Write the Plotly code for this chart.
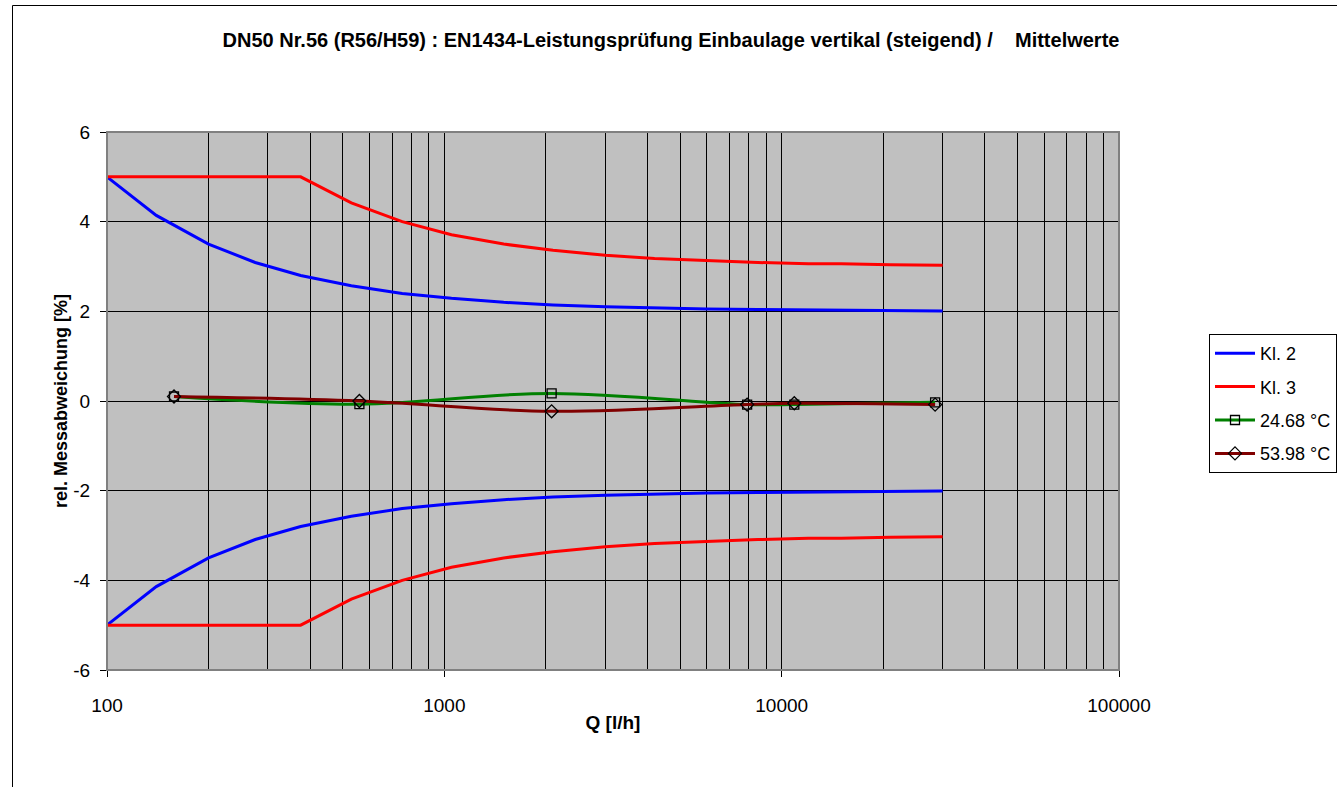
import plotly.graph_objects as go

# ---------------- data ----------------
q_class = [100, 140, 200, 275, 375, 530, 750, 1050, 1500, 2100, 3000, 4200,
           6000, 8500, 12000, 15000, 21000, 30000]
kl2_upper = [5.0, 4.14, 3.5, 3.09, 2.8, 2.57, 2.4, 2.29, 2.2, 2.14, 2.1, 2.07,
             2.05, 2.04, 2.03, 2.03, 2.01, 2.01]
kl2_lower = [-5.0, -4.14, -3.5, -3.09, -2.8, -2.57, -2.4, -2.29, -2.2, -2.14, -2.1, -2.07,
             -2.05, -2.04, -2.03, -2.03, -2.01, -2.01]
kl3_upper = [5.0, 5.0, 5.0, 5.0, 5.0, 4.42, 4.0, 3.71, 3.5, 3.36, 3.25, 3.18,
             3.13, 3.09, 3.06, 3.06, 3.04, 3.03]
kl3_lower = [-5.0, -5.0, -5.0, -5.0, -5.0, -4.42, -4.0, -3.71, -3.5, -3.36, -3.25, -3.18,
             -3.13, -3.09, -3.06, -3.06, -3.04, -3.03]

q_meas = [158, 560, 2080, 7900, 10900, 28500]
t24_68 = [0.10, -0.07, 0.17, -0.08, -0.08, -0.03]
t53_98 = [0.10, 0.00, -0.23, -0.08, -0.05, -0.08]

x_tickvals = [100, 1000, 10000, 100000]
x_ticktext = ["100", "1000", "10000", "100000"]
x_minorvals = [200, 300, 400, 500, 600, 700, 800, 900,
               2000, 3000, 4000, 5000, 6000, 7000, 8000, 9000,
               20000, 30000, 40000, 50000, 60000, 70000, 80000, 90000]
y_tickvals = [-6, -4, -2, 0, 2, 4, 6]
y_ticktext = ["-6", "-4", "-2", "0", "2", "4", "6"]

title_text = ("DN50 Nr.56 (R56/H59) : EN1434-Leistungsprüfung Einbaulage vertikal "
              "(steigend) /\u00a0\u00a0\u00a0 Mittelwerte")

# ---------------- figure ----------------
FONT = "Liberation Sans, Arial, sans-serif"
W, H = 1337, 787
L, R, T, B = 107, 1337 - 1119, 132, 787 - 670
PW, PH = W - L - R, H - T - B

fig = go.Figure()

fig.add_trace(go.Scatter(x=q_class, y=kl2_upper, mode="lines", name="Kl. 2",
                         legendgroup="kl2", line=dict(color="#0000FF", width=3)))
fig.add_trace(go.Scatter(x=q_class, y=kl2_lower, mode="lines", name="Kl. 2",
                         legendgroup="kl2", showlegend=False,
                         line=dict(color="#0000FF", width=3)))
fig.add_trace(go.Scatter(x=q_class, y=kl3_upper, mode="lines", name="Kl. 3",
                         legendgroup="kl3", line=dict(color="#FF0000", width=3)))
fig.add_trace(go.Scatter(x=q_class, y=kl3_lower, mode="lines", name="Kl. 3",
                         legendgroup="kl3", showlegend=False,
                         line=dict(color="#FF0000", width=3)))
fig.add_trace(go.Scatter(x=q_meas, y=t24_68, mode="lines+markers", name="24.68 °C",
                         legendgroup="t1",
                         line=dict(color="#008000", width=3, shape="spline", smoothing=1),
                         marker=dict(symbol="square-open", size=9, color="#000000",
                                     line=dict(width=1.3, color="#000000"))))
fig.add_trace(go.Scatter(x=q_meas, y=t53_98, mode="lines+markers", name="53.98 °C",
                         legendgroup="t2",
                         line=dict(color="#800000", width=3, shape="spline", smoothing=1),
                         marker=dict(symbol="diamond-open", size=10, color="#000000",
                                     line=dict(width=1.3, color="#000000"))))

# plot border (gray) and outer chart border
fig.add_shape(type="rect", xref="paper", yref="paper", x0=0, x1=1, y0=0, y1=1,
              line=dict(color="#808080", width=2), layer="above")
fig.add_shape(type="rect", xref="paper", yref="paper",
              x0=(12.5 - L) / PW, x1=1.5, y0=-0.5, y1=1 + (T - 5.5) / PH,
              line=dict(color="#000000", width=1))

fig.update_layout(
    width=W, height=H,
    margin=dict(l=L, r=R, t=T, b=B, autoexpand=False),
    paper_bgcolor="#FFFFFF",
    plot_bgcolor="#C0C0C0",
    font=dict(family=FONT, size=18, color="#000000"),
    title=dict(text="<b>" + title_text + "</b>", x=671 / W, xanchor="center",
               y=1 - 40 / H, yanchor="middle", font=dict(size=20)),
    legend=dict(x=(1209 - L) / PW, y=1 - (334 - T) / PH, xanchor="left", yanchor="top",
                bordercolor="#000000", borderwidth=1, bgcolor="#FFFFFF",
                font=dict(size=18), tracegroupgap=7, traceorder="grouped",
                itemwidth=40),
    showlegend=True,
)

fig.update_xaxes(
    type="log", range=[2, 5],
    tickmode="array", tickvals=x_tickvals, ticktext=x_ticktext,
    ticks="outside", ticklen=6, tickcolor="#000000", tickwidth=1,
    showgrid=True, gridcolor="#000000", gridwidth=1,
    minor=dict(tickmode="array", tickvals=x_minorvals, showgrid=True,
               gridcolor="#000000", gridwidth=1, ticks=""),
    showline=True, linecolor="#000000", linewidth=1, mirror=False,
    zeroline=False, tickfont=dict(size=19), ticklabelstandoff=12,
    title=dict(text="<b>Q [l/h]</b>", font=dict(size=19), standoff=0),
    automargin=False,
)
fig.update_yaxes(
    range=[-6, 6], tickmode="array", tickvals=y_tickvals, ticktext=y_ticktext,
    ticks="outside", ticklen=6, tickcolor="#000000", tickwidth=1,
    showgrid=True, gridcolor="#000000", gridwidth=1,
    showline=True, linecolor="#000000", linewidth=1, mirror=False,
    zeroline=False, tickfont=dict(size=19), ticklabelstandoff=6,
    title=dict(text="<b>rel. Messabweichung [%]</b>", font=dict(size=18), standoff=0),
    automargin=False,
)

fig.write_html("out.html")
